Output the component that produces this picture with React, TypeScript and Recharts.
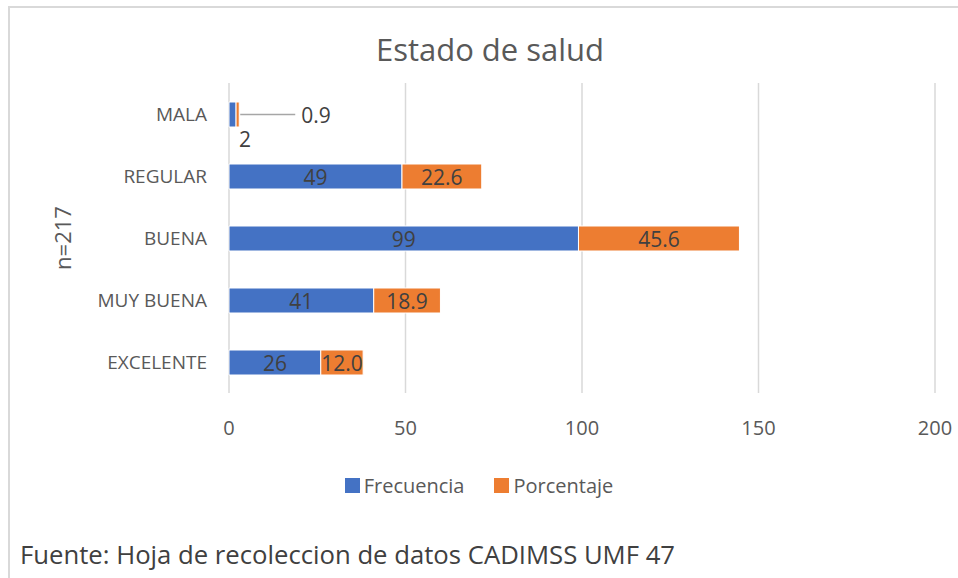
import React from 'react';
import {
  BarChart,
  Bar,
  XAxis,
  YAxis,
  CartesianGrid,
  Legend,
  LabelList,
} from 'recharts';

const categories = ['MALA', 'REGULAR', 'BUENA', 'MUY BUENA', 'EXCELENTE'];
const frecuencia = [2, 49, 99, 41, 26];
const porcentaje = [0.9, 22.6, 45.6, 18.9, 12.0];
const xTicks = [0, 50, 100, 150, 200];

const FONT = '"Open Sans", sans-serif';
const BLUE = '#4472C4';
const ORANGE = '#ED7D31';
const LABEL_SIZE = 21;

const data = categories.map((c, i) => ({
  name: c,
  frecuencia: frecuencia[i],
  porcentaje: porcentaje[i],
}));

// tiny MALA bar: labels go outside like Excel does
function FrecLabel(props: any) {
  const { x, y, width, height, value, index } = props;
  if (index === 0) {
    return (
      <text x={x + width + 9} y={y + height + 12} textAnchor="middle" dominantBaseline="central"
        fill="#404040" fontSize={LABEL_SIZE} fontFamily={FONT}>
        {value}
      </text>
    );
  }
  return (
    <text x={x + width / 2} y={y + height / 2} textAnchor="middle" dominantBaseline="central"
      fill="#404040" fontSize={LABEL_SIZE} fontFamily={FONT}>
      {value}
    </text>
  );
}

function PorcLabel(props: any) {
  const { x, y, width, height, value, index } = props;
  const txt = Number(value).toFixed(1);
  if (index === 0) {
    const cy = y + height / 2;
    return (
      <g>
        <line x1={x + width + 1} y1={cy} x2={x + width + 56} y2={cy} stroke="#A6A6A6" strokeWidth={1.5} />
        <text x={x + width + 62} y={cy} textAnchor="start" dominantBaseline="central"
          fill="#404040" fontSize={LABEL_SIZE} fontFamily={FONT}>
          {txt}
        </text>
      </g>
    );
  }
  return (
    <text x={x + width / 2} y={y + height / 2} textAnchor="middle" dominantBaseline="central"
      fill="#404040" fontSize={LABEL_SIZE} fontFamily={FONT}>
      {txt}
    </text>
  );
}

function LegendContent() {
  const items = [
    { label: 'Frecuencia', color: BLUE },
    { label: 'Porcentaje', color: ORANGE },
  ];
  return (
    <div style={{ display: 'flex', justifyContent: 'center', gap: 30, fontFamily: FONT, fontSize: 20, color: '#595959' }}>
      {items.map(it => (
        <div key={it.label} style={{ display: 'flex', alignItems: 'center', gap: 4 }}>
          <span style={{ width: 15, height: 15, background: it.color, display: 'inline-block' }} />
          <span>{it.label}</span>
        </div>
      ))}
    </div>
  );
}

export default function App() {
  return (
    <div style={{ position: 'absolute', left: 0, top: 0, width: 958, height: 578, background: '#fff', overflow: 'hidden' }}>
      <div style={{ position: 'absolute', left: 8, top: 6, width: 980, height: 600, border: '2px solid #D9D9D9', boxSizing: 'border-box' }} />
      <div style={{ position: 'absolute', left: 0, top: 28, width: 980, textAlign: 'center', fontFamily: FONT, fontSize: 31, color: '#595959' }}>
        Estado de salud
      </div>
      <div style={{ position: 'absolute' }}>
        <BarChart
          width={958}
          height={578}
          data={data}
          layout="vertical"
          barSize={25}
          margin={{ top: 83, right: 23, left: 0, bottom: 145 }}
        >
          <CartesianGrid horizontal={false} stroke="#D9D9D9" strokeWidth={1.5} />
          <XAxis
            type="number"
            domain={[0, 200]}
            ticks={xTicks}
            axisLine={false}
            tickLine={false}
            tickMargin={22}
            height={40}
            tick={{ fill: '#595959', fontSize: 20, fontFamily: FONT }}
          />
          <YAxis
            type="category"
            dataKey="name"
            width={229}
            axisLine={false}
            tickLine={false}
            tickMargin={16}
            tick={{ fill: '#595959', fontSize: 19, fontFamily: FONT }}
            label={({ viewBox }: any) => (
              <text
                x={62}
                y={viewBox.y + viewBox.height / 2}
                transform={`rotate(-90 62 ${viewBox.y + viewBox.height / 2})`}
                textAnchor="middle"
                dominantBaseline="central"
                fill="#595959"
                fontSize={22}
                fontFamily={FONT}
              >
                n=217
              </text>
            )}
          />
          <Legend
            layout="horizontal"
            verticalAlign="middle"
            align="center"
            content={<LegendContent />}
            wrapperStyle={{ top: 472, left: 0, width: 958 }}
          />
          <Bar dataKey="frecuencia" name="Frecuencia" stackId="a" fill={BLUE} stroke="#fff" strokeWidth={1} isAnimationActive={false}>
            <LabelList dataKey="frecuencia" content={<FrecLabel />} />
          </Bar>
          <Bar dataKey="porcentaje" name="Porcentaje" stackId="a" fill={ORANGE} stroke="#fff" strokeWidth={1} isAnimationActive={false}>
            <LabelList dataKey="porcentaje" content={<PorcLabel />} />
          </Bar>
        </BarChart>
      </div>
      <div style={{ position: 'absolute', left: 20, top: 537, fontFamily: FONT, fontSize: 25.7, color: '#404040', whiteSpace: 'nowrap' }}>
        Fuente: Hoja de recoleccion de datos CADIMSS UMF 47
      </div>
    </div>
  );
}
